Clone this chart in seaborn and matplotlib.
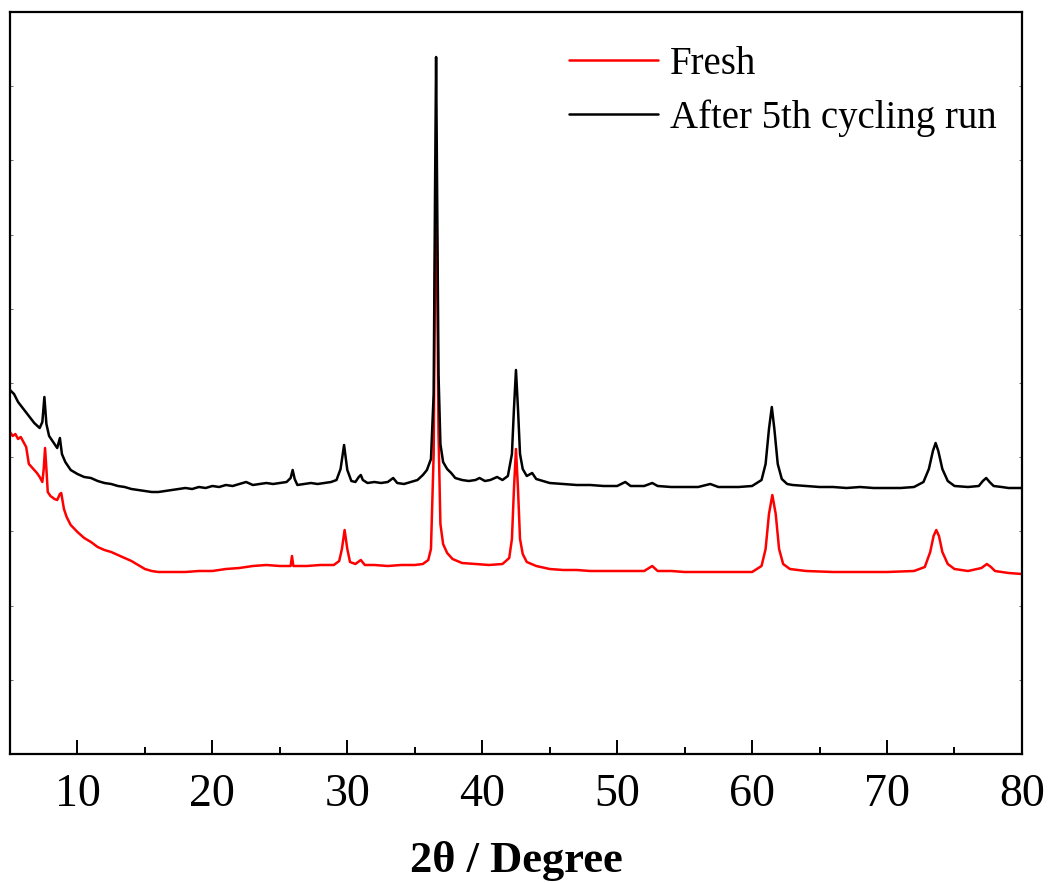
import matplotlib
matplotlib.use("Agg")
import matplotlib.pyplot as plt
import numpy as np
import pandas as pd
import seaborn as sns

sns.set_theme(style="white", rc={"text.color": "black", "axes.labelcolor": "black",
                                 "xtick.color": "black", "ytick.color": "black"})
plt.rcParams['font.family'] = ['Liberation Serif', 'DejaVu Serif']

# -- XRD pattern: (2theta, intensity a.u.)
after_2theta = [5.0, 5.3, 5.6, 6.0, 6.4, 6.8, 7.2, 7.4, 7.55, 7.7, 7.9, 8.2, 8.5, 8.7, 8.85, 9.1, 9.5,
                10.0, 10.5, 11.0, 11.5, 12.0, 12.5, 13.0, 13.5, 14.0, 14.5, 15.0, 15.5, 16.0, 16.5, 17.0,
                17.5, 18.0, 18.5, 19.0, 19.5, 20.0, 20.5, 21.0, 21.5, 22.0, 22.5, 23.0, 23.5, 24.0, 24.5,
                25.0, 25.5, 25.8, 25.95, 26.1, 26.3, 26.8, 27.3, 27.8, 28.3, 28.8, 29.2, 29.5, 29.76, 30.0,
                30.3, 30.6, 30.85, 31.0, 31.15, 31.5, 32.0, 32.5, 33.0, 33.4, 33.7, 34.2, 34.7, 35.2, 35.6,
                35.9, 36.2, 36.4, 36.5, 36.58, 36.66, 36.76, 36.9, 37.1, 37.4, 37.7, 38.0, 38.5, 39.0, 39.5,
                39.8, 40.2, 40.6, 41.1, 41.5, 41.9, 42.2, 42.35, 42.5, 42.65, 42.8, 43.0, 43.3, 43.7, 44.0,
                44.5, 45.0, 46.0, 47.0, 48.0, 49.0, 50.0, 50.6, 51.0, 52.0, 52.6, 53.0, 54.0, 55.0, 56.0,
                56.9, 57.5, 58.0, 59.0, 60.0, 60.7, 61.0, 61.25, 61.46, 61.65, 61.9, 62.2, 62.6, 63.0, 64.0,
                65.0, 66.0, 67.0, 68.0, 69.0, 70.0, 71.0, 72.0, 72.7, 73.1, 73.4, 73.6, 73.8, 74.1, 74.5,
                75.0, 76.0, 76.8, 77.1, 77.35, 77.6, 77.9, 78.5, 79.0, 80.0]
after_int = [364, 360, 352, 345, 338, 331, 326, 332, 357, 330, 318, 312, 306, 316, 300, 292, 284,
             280, 277, 276, 273, 271, 270, 268, 267, 265, 264, 263, 262, 262, 263, 264,
             265, 266, 265, 267, 266, 268, 267, 269, 268, 270, 272, 269, 270, 271, 270,
             271, 272, 276, 284, 275, 269, 270, 271, 270, 271, 272, 274, 285, 309, 284,
             273, 272, 277, 279, 274, 271, 272, 271, 272, 276, 271, 270, 272, 274, 279,
             284, 295, 360, 560, 697, 560, 380, 310, 292, 285, 281, 276, 274, 273, 274,
             276, 273, 274, 277, 274, 278, 300, 345, 384, 345, 300, 285, 278, 281, 275,
             273, 271, 270, 269, 269, 268, 268, 272, 268, 268, 271, 268, 267, 267, 267,
             270, 267, 267, 267, 268, 274, 290, 325, 347, 325, 290, 275, 270, 269, 268,
             267, 267, 266, 267, 266, 266, 266, 267, 272, 285, 303, 311, 303, 285, 273,
             268, 267, 268, 273, 276, 272, 268, 267, 266, 266]

fresh_2theta = [5.0, 5.2, 5.4, 5.6, 5.8, 6.0, 6.2, 6.4, 6.6, 7.0, 7.2, 7.4, 7.5, 7.6, 7.7, 7.8, 8.0,
                8.3, 8.5, 8.7, 8.8, 9.0, 9.2, 9.5, 10.0, 10.5, 11.0, 11.5, 12.0, 12.5, 13.0, 13.5, 14.0,
                14.5, 15.0, 15.5, 16.0, 17.0, 18.0, 19.0, 20.0, 21.0, 22.0, 23.0, 24.0, 25.0, 25.8, 25.9,
                26.0, 27.0, 28.0, 29.0, 29.4, 29.6, 29.8, 30.0, 30.2, 30.6, 31.0, 31.3, 32.0, 33.0, 34.0,
                35.0, 35.6, 36.0, 36.2, 36.4, 36.5, 36.58, 36.66, 36.76, 36.9, 37.1, 37.4, 37.8, 38.5,
                39.5, 40.5, 41.5, 42.0, 42.2, 42.35, 42.5, 42.65, 42.8, 43.0, 43.3, 44.0, 45.0, 46.0,
                47.0, 48.0, 49.0, 50.0, 51.0, 52.0, 52.6, 53.0, 54.0, 55.0, 56.0, 57.0, 58.0, 59.0, 60.0,
                60.7, 61.0, 61.25, 61.5, 61.75, 62.0, 62.3, 62.8, 64.0, 66.0, 68.0, 70.0, 72.0, 72.8,
                73.2, 73.45, 73.65, 73.85, 74.1, 74.5, 75.0, 76.0, 77.0, 77.4, 77.7, 78.0, 79.0, 80.0]
fresh_int = [322, 318, 320, 315, 317, 312, 307, 290, 287, 281, 277, 272, 285, 306, 285, 262, 258,
             255, 254, 260, 261, 245, 237, 229, 222, 216, 212, 207, 204, 202, 199, 196, 193,
             189, 185, 183, 182, 182, 182, 183, 183, 185, 186, 188, 189, 188, 188, 198,
             188, 188, 189, 189, 193, 205, 224, 205, 192, 190, 194, 189, 189, 188, 189,
             189, 190, 194, 205, 300, 480, 589, 480, 320, 230, 210, 201, 195, 191,
             190, 189, 190, 196, 215, 265, 305, 265, 215, 200, 192, 188, 185, 184,
             184, 183, 183, 183, 183, 183, 188, 183, 183, 182, 182, 182, 182, 182, 182,
             188, 205, 240, 259, 240, 205, 190, 185, 183, 182, 182, 182, 183, 187,
             202, 218, 224, 218, 202, 190, 185, 183, 186, 190, 187, 183, 181, 180]

labels = ["Fresh", "After 5th cycling run"]
colors = ["#ff0000", "#000000"]

df = pd.concat([
    pd.DataFrame({"2theta": fresh_2theta, "I": fresh_int, "sample": labels[0]}),
    pd.DataFrame({"2theta": after_2theta, "I": after_int, "sample": labels[1]}),
])

fig = plt.figure(figsize=(10.5, 8.83), dpi=100)
ax = fig.add_axes([0.0095, 0.1461, 0.9638, 0.8403])
sns.lineplot(data=df, x="2theta", y="I", hue="sample", hue_order=labels,
             palette=dict(zip(labels, colors)), estimator=None, linewidth=1.8, ax=ax)

ax.set_xlim(5, 80)
ax.set_ylim(0, 742)
ax.set_xticks(np.arange(10, 81, 10))
ax.set_xticks(np.arange(5, 81, 5), minor=True)
ax.set_yticks(np.arange(0, 743, 74.2))
ax.set_yticklabels([])
ax.tick_params(axis="x", which="major", direction="in", length=10, width=1.4,
               labelsize=33, pad=14, bottom=True, top=False)
ax.tick_params(axis="x", which="minor", direction="in", length=5, width=1.4, bottom=True, top=False)
ax.tick_params(axis="y", which="major", direction="in", length=2, width=0.6,
               left=True, right=True, color="#555555")
for s in ax.spines.values():
    s.set_color("black")
    s.set_linewidth(1.6)

ax.set_xlabel("2θ / Degree", fontsize=32, fontweight="bold", labelpad=18)
ax.set_ylabel("")

handles, labs = ax.get_legend_handles_labels()
ax.legend(handles, labs, loc="upper left", bbox_to_anchor=(569 / 1050, 0.948),
          bbox_transform=fig.transFigure, frameon=False, fontsize=28,
          handlelength=2.3, handletextpad=0.3, labelspacing=0.42,
          borderpad=0, borderaxespad=0)

fig.savefig("out.png", dpi=100)
